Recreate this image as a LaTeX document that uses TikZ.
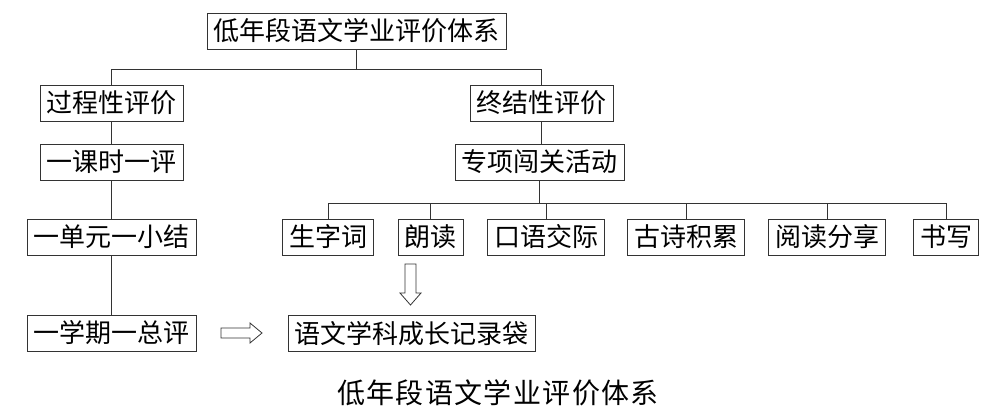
\documentclass[tikz,border=0pt]{standalone}
\usepackage{fontspec}
\usepackage{tikz}
\newfontfamily\cjk{Noto Sans CJK SC}
\newfontfamily\cjkcap[LetterSpace=5]{Noto Sans CJK SC}

\tikzset{
  box/.style={draw=black!80, line width=0.8pt, font=\cjk\fontsize{26}{30}\selectfont,
    inner xsep=6.5pt, inner ysep=0pt, minimum height=36pt},
  link/.style={draw=black!80, line width=0.8pt},
  hollow/.style={draw=black!80, line width=0.8pt, line join=miter}
}

\begin{document}
\begin{tikzpicture}[x=1pt,y=-1pt]
        \useasboundingbox (0,0) rectangle (1002,418);

        \node[box] (top) at (356.5,31) {低年段语文学业评价体系};

        \node[box] (guocheng) at (111.5,103) {过程性评价};
        \node[box] (zhongjie) at (541.5,103) {终结性评价};

        \node[box] (keshi) at (111.5,162) {一课时一评};
        \node[box] (danyuan) at (111.5,237) {一单元一小结};
        \node[box] (xueqi) at (111.5,333) {一学期一总评};

        \node[box] (zhuanxiang) at (539.5,162) {专项闯关活动};

        \node[box] (shengzi) at (328,237) {生字词};
        \node[box] (langdu) at (430.5,237) {朗读};
        \node[box] (kouyu) at (546,237) {口语交际};
        \node[box] (gushi) at (686,237) {古诗积累};
        \node[box] (yuedu) at (827,237) {阅读分享};
        \node[box] (shuxie) at (946,237) {书写};

        \node[box] (dai) at (411.5,333.5) {语文学科成长记录袋};

        % tree lines
        \path (top.south) ++(0,20) coordinate (j1);
        \draw[link] (top.south) -- (j1);
        \draw[link] (guocheng.north) |- (j1) -| (zhongjie.north);

        \draw[link] (guocheng.south) -- (keshi.north);
        \draw[link] (keshi.south) -- (danyuan.north);
        \draw[link] (danyuan.south) -- (xueqi.north);

        \draw[link] (zhongjie.south) -- (zhongjie.south |- zhuanxiang.north);
        \path (zhuanxiang.south) ++(0,23) coordinate (j2);
        \draw[link] (zhuanxiang.south) -- (j2);
        \draw[link] (shengzi.north) |- (j2) -| (shuxie.north);
        \foreach \c in {langdu,kouyu,gushi,yuedu}
          \draw[link] (\c.north) -- (\c.north |- j2);

        % hollow arrows
        \coordinate (toright) at (241.5,333);
        \coordinate (todown) at (410.5,284.5);
        \draw[hollow] (toright) ++(-20.5,-5) -- ++(29,0) -- ++(0,-5) -- ++(12,10)
          -- ++(-12,10) -- ++(0,-5) -- ++(-29,0) -- cycle;
        \draw[hollow] (todown) ++(-5.5,-20.5) -- ++(0,29) -- ++(-5,0) -- ++(10.5,12)
          -- ++(10.5,-12) -- ++(-5,0) -- ++(0,-29) -- cycle;

        \node[font=\cjkcap\fontsize{28}{32}\selectfont, inner sep=0pt] (caption) at (498,393) {低年段语文学业评价体系};
\end{tikzpicture}
\end{document}
